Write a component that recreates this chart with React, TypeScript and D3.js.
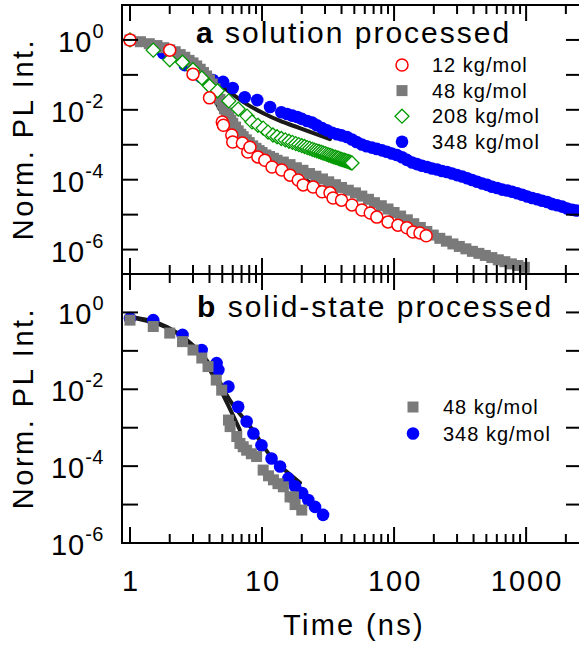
import React from "react";
import * as d3 from "d3";

// ---------- data (time in ns, normalized PL intensity) ----------
// Panel a: solution processed
const redA_t = [1, 2, 3, 4, 5, 5.1, 5.9, 6, 7.1, 7.8, 8.1, 9.3, 10.5, 11.9, 14.1, 16.3, 18.8, 20.5, 24.4, 28.5, 32.7, 34.5, 40, 48, 57, 66, 74, 90, 107, 125, 139, 157, 175];
const redA_v = [1, 0.51, 0.105, 0.022, 4.5e-3, 3.6e-3, 1.9e-3, 1.2e-3, 1.12e-3, 6.2e-4, 8.5e-4, 4.5e-4, 3.6e-4, 2.3e-4, 1.9e-4, 1.35e-4, 9.8e-5, 7.1e-5, 6.2e-5, 4.5e-5, 4.2e-5, 3.0e-5, 2.6e-5, 1.9e-5, 1.35e-5, 1.12e-5, 8.5e-6, 6.2e-6, 5.0e-6, 4.2e-6, 3.2e-6, 3.0e-6, 2.5e-6];

const grayA_t = [1, 1.2, 1.4, 1.6, 1.8, 2.0, 2.2, 2.4, 2.6, 2.8, 3.0, 3.2, 3.4, 3.6, 3.8, 4.0, 4.2, 4.4, 4.6, 4.8, 5.0, 5.2, 5.4, 5.6, 5.8, 6.0, 6.3, 6.6, 6.9, 7.2, 7.6, 8.0, 8.5, 9.0, 9.5, 10, 10.7, 11.4, 12.2, 13, 14.5, 16.3, 18.2, 20.4, 22.9, 25.6, 28.7, 32, 36, 40, 45, 51, 57, 64, 71, 80, 90, 100, 112, 126, 141, 158, 177, 198, 222, 249, 279, 312, 350, 392, 439, 491, 550, 616, 690, 773, 866, 970];
const grayA_v = [1, 0.89, 0.78, 0.69, 0.6, 0.52, 0.46, 0.38, 0.32, 0.26, 0.22, 0.18, 0.145, 0.117, 0.093, 0.072, 0.055, 0.04, 0.028, 0.02, 0.0145, 0.0107, 8.1e-3, 6.3e-3, 5.0e-3, 4.1e-3, 3.2e-3, 2.5e-3, 2.0e-3, 1.7e-3, 1.38e-3, 1.15e-3, 9.3e-4, 7.9e-4, 6.8e-4, 6.0e-4, 5.1e-4, 4.6e-4, 4.1e-4, 3.6e-4, 3.2e-4, 2.7e-4, 2.2e-4, 1.86e-4, 1.5e-4, 1.26e-4, 1.05e-4, 8.7e-5, 7.2e-5, 6.0e-5, 5.0e-5, 4.2e-5, 3.4e-5, 2.75e-5, 2.2e-5, 1.8e-5, 1.45e-5, 1.15e-5, 9.1e-6, 7.1e-6, 5.5e-6, 4.3e-6, 3.3e-6, 2.6e-6, 2.1e-6, 1.74e-6, 1.45e-6, 1.23e-6, 1.05e-6, 8.9e-7, 7.8e-7, 6.8e-7, 5.9e-7, 5.1e-7, 4.5e-7, 3.9e-7, 3.5e-7, 3.1e-7];

const greenA_t = [1, 1.5, 2, 2.5, 3, 3.5, 4, 4.6, 5.6, 6.6, 7.7, 8.4, 9.3, 10.2, 11.1, 12.1, 13, 14, 15, 16, 17, 18, 19, 20, 21, 22, 23, 24, 25, 26, 27, 28, 29, 30, 31, 32, 33, 34, 35, 36, 37, 38, 39, 40, 41, 42, 43, 44, 45, 46, 47, 48];
const greenA_v = [1, 0.51, 0.27, 0.23, 0.14, 0.081, 0.048, 0.035, 0.018, 0.0105, 6.6e-3, 4.5e-3, 3.6e-3, 3.0e-3, 2.3e-3, 1.9e-3, 1.7e-3, 1.51e-3, 1.38e-3, 1.26e-3, 1.17e-3, 1.08e-3, 1.01e-3, 9.4e-4, 8.9e-4, 8.3e-4, 7.9e-4, 7.4e-4, 7.0e-4, 6.7e-4, 6.4e-4, 6.1e-4, 5.8e-4, 5.6e-4, 5.3e-4, 5.1e-4, 4.9e-4, 4.7e-4, 4.5e-4, 4.4e-4, 4.2e-4, 4.1e-4, 3.9e-4, 3.8e-4, 3.7e-4, 3.6e-4, 3.5e-4, 3.4e-4, 3.3e-4, 3.2e-4, 3.1e-4, 3.0e-4];

const blueA_t = [1, 1.78, 2.6, 3.45, 4.25, 5.07, 6.0, 7.4, 9.2, 11.5, 14, 15.5, 17, 18.5, 20, 22, 24, 26, 28.5, 31, 34, 37, 40, 44, 48, 52, 57, 62, 68, 74, 81, 88, 96, 105, 115, 125, 137, 149, 163, 178, 194, 212, 231, 252, 275, 300, 328, 358, 390, 426, 465, 507, 553, 604, 659, 719, 785, 856, 934, 1019, 1112, 1214, 1324, 1445, 1577, 1720, 1877, 2048, 2235, 2400];
const blueA_v = [1, 0.42, 0.19, 0.086, 0.071, 0.063, 0.042, 0.023, 0.019, 0.012, 8.5e-3, 7.6e-3, 6.8e-3, 6.2e-3, 5.5e-3, 4.8e-3, 4.3e-3, 3.6e-3, 3.0e-3, 2.6e-3, 2.2e-3, 2.0e-3, 1.86e-3, 1.66e-3, 1.41e-3, 1.2e-3, 1.02e-3, 9.1e-4, 8.3e-4, 7.6e-4, 6.9e-4, 6.3e-4, 5.6e-4, 5.1e-4, 4.4e-4, 3.7e-4, 3.1e-4, 2.8e-4, 2.5e-4, 2.3e-4, 2.1e-4, 1.95e-4, 1.78e-4, 1.66e-4, 1.51e-4, 1.35e-4, 1.23e-4, 1.1e-4, 9.8e-5, 8.7e-5, 7.8e-5, 7.1e-5, 6.3e-5, 5.8e-5, 5.2e-5, 4.9e-5, 4.5e-5, 4.1e-5, 3.7e-5, 3.3e-5, 3.0e-5, 2.75e-5, 2.5e-5, 2.3e-5, 2.0e-5, 1.86e-5, 1.7e-5, 1.5e-5, 1.38e-5, 1.32e-5];

const fitA1_t = [1, 1.69, 2.39, 3.39, 4.4, 5.7, 7.6, 10.5, 13.7, 19.3, 32.7];
const fitA1_v = [1, 0.63, 0.35, 0.16, 0.071, 0.032, 0.0148, 7.6e-3, 4.8e-3, 3.0e-3, 1.45e-3];
const fitA2_t = [1, 1.91, 2.71, 3.4, 4.25, 5.0, 5.9, 7.2, 8.9, 12.3, 16.3, 23, 32.7];
const fitA2_v = [1, 0.51, 0.22, 0.093, 0.0234, 8.1e-3, 3.2e-3, 1.38e-3, 7.1e-4, 3.2e-4, 1.66e-4, 8.5e-5, 4.4e-5];

// Panel b: solid-state processed
const grayB_t = [1, 1.5, 2.0, 2.5, 3.0, 3.5, 3.9, 4.5, 4.95, 5.57, 5.73, 6.44, 6.8, 7.2, 7.65, 8.3, 9.1, 10.2, 11.2, 12.2, 13.2, 14.5, 16.3, 17.3, 17.8, 20];
const grayB_v = [0.63, 0.43, 0.29, 0.174, 0.105, 0.065, 0.039, 0.0174, 9.5e-3, 1.58e-3, 1.07e-3, 5.9e-4, 3.9e-4, 3.2e-4, 2.6e-4, 2.1e-4, 1.78e-4, 7.9e-5, 5.6e-5, 4.4e-5, 3.5e-5, 2.9e-5, 1.58e-5, 1.58e-5, 1.0e-5, 7.2e-6];
const blueB_t = [1, 1.5, 2.5, 3.49, 4.53, 4.67, 5.57, 6.6, 7.65, 8.6, 9.9, 11.8, 13.7, 15.8, 17.8, 20.1, 22.4, 25.2, 29];
const blueB_v = [0.71, 0.63, 0.26, 0.105, 0.048, 0.032, 0.0117, 3.5e-3, 1.45e-3, 7.1e-4, 3.5e-4, 1.58e-4, 9.8e-5, 4.8e-5, 3.0e-5, 2.0e-5, 1.32e-5, 8.7e-6, 5.4e-6];
const fitB1_t = [1, 1.91, 2.6, 3.39, 4.25, 5.43, 6.8];
const fitB1_v = [0.76, 0.42, 0.21, 0.078, 0.0234, 4.4e-3, 8.7e-4];
const fitB2_t = [1, 2.7, 4.04, 5.7, 8.5, 11.5, 17.2, 19.4];
const fitB2_v = [0.76, 0.19, 0.043, 5.2e-3, 8.7e-4, 1.9e-4, 5.2e-5, 3.7e-5];

// ticks and labels
const xMajor = [1, 10, 100, 1000];
const xMinor = [2, 3, 4, 5, 6, 7, 8, 9, 20, 30, 40, 50, 60, 70, 80, 90, 200, 300, 400, 500, 600, 700, 800, 900, 2000];
const xLabels = ["1", "10", "100", "1000"];
const yDecadesA = [1, 1e-1, 1e-2, 1e-3, 1e-4, 1e-5, 1e-6];
const yDecadesB = [1, 1e-1, 1e-2, 1e-3, 1e-4, 1e-5];
const yLabelVals = [1, 1e-2, 1e-4, 1e-6];
const yLabelExp = ["0", "-2", "-4", "-6"];
const legendA = ["12 kg/mol", "48 kg/mol", "208 kg/mol", "348 kg/mol"];
const legendB = ["48 kg/mol", "348 kg/mol"];

const FONT = "'Liberation Sans', Arial, Helvetica, sans-serif";
const RED = "#ff0000";
const GRAY = "#7a7a7a";
const GREEN = "#009900";
const BLUE = "#0000ff";
const FIT = "#1a1a1a";

const zip = (t: number[], v: number[]) => t.map((tt, i) => ({ t: tt, v: v[i] }));

const x = d3.scaleLog().domain([0.87, 2650]).range([122, 582]);
const yA = d3.scaleLog().domain([2e-7, 10]).range([274, 5]);
const yB = d3.scaleLog().domain([1e-6, 10]).range([543, 274]);

type Pt = { t: number; v: number };

function Marker({ kind, cx, cy }: { kind: string; cx: number; cy: number }) {
  if (kind === "red") return <circle cx={cx} cy={cy} r={6} fill="white" stroke={RED} strokeWidth={1.5} />;
  if (kind === "gray") return <rect x={cx - 5.5} y={cy - 5.5} width={11} height={11} fill={GRAY} />;
  if (kind === "green")
    return <path d={`M${cx},${cy - 7}L${cx + 7},${cy}L${cx},${cy + 7}L${cx - 7},${cy}Z`} fill="white" stroke={GREEN} strokeWidth={1.3} />;
  return <circle cx={cx} cy={cy} r={6.3} fill={BLUE} />;
}

function Series({ data, kind, y }: { data: Pt[]; kind: string; y: any }) {
  return (
    <g>
      {data.map((d, i) => (
        <Marker key={i} kind={kind} cx={x(d.t)} cy={y(d.v)} />
      ))}
    </g>
  );
}

function Fit({ data, y }: { data: Pt[]; y: any }) {
  const line = d3
    .line<Pt>()
    .x((d) => x(d.t))
    .y((d) => y(d.v))
    .curve(d3.curveMonotoneX);
  return <path d={line(data) || ""} fill="none" stroke={FIT} strokeWidth={4} strokeLinecap="round" />;
}

function YAxis({ y, decades }: { y: any; decades: number[] }) {
  const [left, right] = x.range();
  return (
    <g>
      {decades.map((d, i) => (
        <g key={i}>
          <line x1={left} x2={left + 16} y1={y(d)} y2={y(d)} stroke="black" strokeWidth={2} />
          <line x1={right - 16} x2={right} y1={y(d)} y2={y(d)} stroke="black" strokeWidth={2} />
        </g>
      ))}
      {yLabelVals.map((d, i) => (
        <text key={"l" + i} x={104} y={y(d) + 12} textAnchor="end" fontSize={29} fontFamily={FONT} letterSpacing={1}>
          <tspan>10</tspan>
          <tspan fontSize={20} dy={-14} letterSpacing={0.5}>{yLabelExp[i]}</tspan>
        </text>
      ))}
    </g>
  );
}

function XTicks({ yPos, dir }: { yPos: number; dir: number }) {
  // dir: +1 ticks downward, -1 upward, 0 both
  const seg = (len: number) => (dir === 0 ? [yPos - len, yPos + len] : [yPos, yPos + dir * len]);
  return (
    <g>
      {xMajor.map((t, i) => {
        const [a, b] = seg(16);
        return <line key={"M" + i} x1={x(t)} x2={x(t)} y1={a} y2={b} stroke="black" strokeWidth={2} />;
      })}
      {xMinor.map((t, i) => {
        const [a, b] = seg(9);
        return <line key={"m" + i} x1={x(t)} x2={x(t)} y1={a} y2={b} stroke="black" strokeWidth={2} />;
      })}
    </g>
  );
}

export default function App() {
  const [left, right] = x.range();
  const redA = zip(redA_t, redA_v);
  const grayA = zip(grayA_t, grayA_v);
  const greenA = zip(greenA_t, greenA_v);
  const blueA = zip(blueA_t, blueA_v);
  const grayB = zip(grayB_t, grayB_v);
  const blueB = zip(blueB_t, blueB_v);
  const kindsA = ["red", "gray", "green", "blue"];
  const kindsB = ["gray", "blue"];
  return (
    <svg width={579} height={649} style={{ position: "absolute", left: 0, top: 0, background: "white" }} fontFamily={FONT}>
      <rect x={0} y={0} width={579} height={649} fill="white" />
      <defs>
        <clipPath id="clipA">
          <rect x={left} y={5} width={right - left} height={269} />
        </clipPath>
        <clipPath id="clipB">
          <rect x={left} y={274} width={right - left} height={269} />
        </clipPath>
      </defs>

      {/* Panel a */}
      <g clipPath="url(#clipA)">
        <Fit data={zip(fitA1_t, fitA1_v)} y={yA} />
        <Fit data={zip(fitA2_t, fitA2_v)} y={yA} />
        <Series data={blueA} kind="blue" y={yA} />
        <Series data={grayA} kind="gray" y={yA} />
        <Series data={greenA} kind="green" y={yA} />
        <Series data={redA} kind="red" y={yA} />
      </g>

      {/* Panel b */}
      <g clipPath="url(#clipB)">
        <Fit data={zip(fitB1_t, fitB1_v)} y={yB} />
        <Fit data={zip(fitB2_t, fitB2_v)} y={yB} />
        <Series data={blueB} kind="blue" y={yB} />
        <Series data={grayB} kind="gray" y={yB} />
      </g>

      {/* frames */}
      <line x1={left} x2={left} y1={5} y2={543} stroke="black" strokeWidth={2} />
      <line x1={right} x2={right} y1={5} y2={543} stroke="black" strokeWidth={2} />
      <line x1={left - 1} x2={right} y1={5} y2={5} stroke="black" strokeWidth={2} />
      <line x1={left - 1} x2={right} y1={274} y2={274} stroke="black" strokeWidth={2} />
      <line x1={left - 1} x2={right} y1={543} y2={543} stroke="black" strokeWidth={2} />
      <XTicks yPos={5} dir={1} />
      <XTicks yPos={274} dir={0} />
      <XTicks yPos={543} dir={-1} />
      <YAxis y={yA} decades={yDecadesA} />
      <YAxis y={yB} decades={yDecadesB} />

      {/* x tick labels */}
      {xMajor.map((t, i) => (
        <text key={i} x={x(t) + 1} y={591} textAnchor="middle" fontSize={29} letterSpacing={2}>
          {xLabels[i]}
        </text>
      ))}
      <text x={354} y={635} textAnchor="middle" fontSize={29} letterSpacing={2.3}>
        Time (ns)
      </text>
      <text transform="translate(33,139) rotate(-90)" textAnchor="middle" fontSize={29} letterSpacing={2.5}>
        Norm. PL Int.
      </text>
      <text transform="translate(33,408) rotate(-90)" textAnchor="middle" fontSize={29} letterSpacing={2.5}>
        Norm. PL Int.
      </text>

      {/* titles */}
      <text x={196} y={43} fontSize={30} letterSpacing={2}>
        <tspan fontWeight="bold">a</tspan>
        <tspan>{" solution processed"}</tspan>
      </text>
      <text x={197} y={317} fontSize={30} letterSpacing={2}>
        <tspan fontWeight="bold">b</tspan>
        <tspan>{" solid-state processed"}</tspan>
      </text>

      {/* legends */}
      {legendA.map((s, i) => {
        const cy = 65 + i * 25.6;
        return (
          <g key={i}>
            <Marker kind={kindsA[i]} cx={402} cy={cy} />
            <text x={432} y={cy + 7} fontSize={20} letterSpacing={1}>
              {s}
            </text>
          </g>
        );
      })}
      {legendB.map((s, i) => {
        const cy = 407 + i * 26.5;
        return (
          <g key={i}>
            <Marker kind={kindsB[i]} cx={413} cy={cy} />
            <text x={443} y={cy + 7} fontSize={20} letterSpacing={1}>
              {s}
            </text>
          </g>
        );
      })}
    </svg>
  );
}
